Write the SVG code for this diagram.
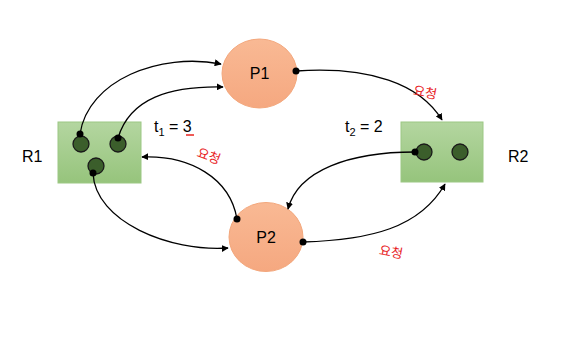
<svg xmlns="http://www.w3.org/2000/svg" width="575" height="345" viewBox="0 0 575 345">
<style>
.res{fill:url(#gg);stroke:#9cc884;stroke-width:1}
.proc{fill:url(#og);stroke:#f3a77c;stroke-width:1}
.inst{fill:#3b5e2b;stroke:#1a1a1a;stroke-width:1.3}
.dot{fill:#000}
.edge{fill:none;stroke:#000;stroke-width:1.3;marker-end:url(#arr)}
.lbl{font-family:"Liberation Sans",Arial,sans-serif;font-size:16px;fill:#000}
.note{font-family:"Noto Sans CJK KR",sans-serif;font-size:13px;fill:#e8231f}
</style>
<defs>
<linearGradient id="gg" x1="0" y1="0" x2="0" y2="1"><stop offset="0" stop-color="#b4d6a0"/><stop offset="1" stop-color="#96c47c"/></linearGradient>
<linearGradient id="og" x1="0" y1="0" x2="0" y2="1"><stop offset="0" stop-color="#f9b994"/><stop offset="1" stop-color="#f5a880"/></linearGradient>
<marker id="arr" viewBox="0 0 10 10" refX="9" refY="5" markerWidth="7" markerHeight="7" orient="auto" markerUnits="userSpaceOnUse"><path d="M0,0 L10,5 L0,10 z" fill="#000"/></marker>
</defs>
<rect width="575" height="345" fill="#fff"/>
<g id="R1">
<rect class="res" x="58" y="122" width="83" height="61"/>
<circle class="inst" cx="81" cy="144" r="8"/>
<circle class="inst" cx="118" cy="144" r="8"/>
<circle class="inst" cx="96" cy="166" r="8"/>
<text class="lbl" x="22" y="162">R1</text>
</g>
<g id="R2">
<rect class="res" x="401" y="122" width="82" height="60"/>
<circle class="inst" cx="424" cy="152" r="8"/>
<circle class="inst" cx="460" cy="152" r="8"/>
<text class="lbl" x="508" y="162">R2</text>
</g>
<g id="P1">
<ellipse class="proc" cx="259.5" cy="73.5" rx="37.5" ry="34.5"/>
<text class="lbl" x="259.5" y="79" text-anchor="middle">P1</text>
</g>
<g id="P2">
<ellipse class="proc" cx="266" cy="237" rx="37" ry="34.5"/>
<text class="lbl" x="266" y="243" text-anchor="middle">P2</text>
</g>
<g id="connectors">
<path class="edge" d="M80,134 C88,80 160,52 221,64"/>
<path class="edge" d="M118,138 C130,98 170,86 223,87"/>
<path class="edge" d="M296,71 C370,66 420,84 442,120"/>
<path class="edge" d="M415,152 C350,152 298,170 288,209"/>
<path class="edge" d="M303,242 C370,240 420,228 445,184"/>
<path class="edge" d="M237,219 C230,178 190,155 142,157"/>
<path class="edge" d="M93,173 C95,222 170,252 228,248"/>
<circle class="dot" cx="80" cy="134" r="3.5"/>
<circle class="dot" cx="118" cy="138" r="3.5"/>
<circle class="dot" cx="93" cy="173" r="3.5"/>
<circle class="dot" cx="296" cy="71" r="3.5"/>
<circle class="dot" cx="415" cy="152" r="3.5"/>
<circle class="dot" cx="303" cy="242" r="3.5"/>
<circle class="dot" cx="237" cy="219" r="3.5"/>
</g>
<g id="labels">
<text class="lbl" x="154" y="132">t<tspan font-size="11" dy="4">1</tspan><tspan dy="-4"> = 3</tspan></text>
<line x1="186" y1="135" x2="194" y2="135" stroke="#e8231f" stroke-width="1.5"/>
<text class="lbl" x="345" y="132">t<tspan font-size="11" dy="4">2</tspan><tspan dy="-4"> = 2</tspan></text>
<text class="note" x="197" y="161" transform="rotate(20 210 156)">요청</text>
<text class="note" x="413" y="97" transform="rotate(10 425 93)">요청</text>
<text class="note" x="379" y="257" transform="rotate(10 393 253)">요청</text>
</g>
</svg>
